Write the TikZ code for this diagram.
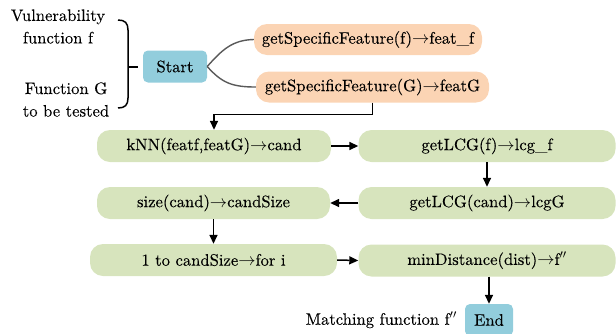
\documentclass[tikz,border=0pt]{standalone}
\usepackage{fontspec}
\newfontfamily\lmx{lmroman10-regular}[Extension=.otf, FakeBold=0.1]
\usetikzlibrary{arrows.meta,calc}
\newcommand{\ra}{\ensuremath{\rightarrow}}
\newcommand{\dpr}{\ensuremath{^{\prime\prime}}}
\definecolor{startblue}{HTML}{92CDDC}
\definecolor{peach}{HTML}{FBD4B4}
\definecolor{olive}{HTML}{D7E4BD}
\tikzset{
  txt/.style={font=\lmx\fontsize{16.6}{22.5}\selectfont, inner sep=0pt},
  terminal/.style={txt, fill=startblue, rounded corners=5pt, minimum height=32pt},
  featbox/.style={txt, fill=peach, rounded corners=13pt, minimum height=31pt},
  stepbox/.style={txt, fill=olive, rounded corners=13pt, minimum height=32pt},
  flow/.style={line width=1.5pt, -{Triangle[length=9pt,width=8pt]}},
  branch/.style={line width=1.4pt, draw=black!65},
}
\begin{document}
\begin{tikzpicture}[x=1pt,y=-1pt]
\useasboundingbox (0,0) rectangle (616,333);
% left labels
\node[txt, align=center] (vf) at (58,26.5) {Vulnerability\\function f};
\node[txt, align=center] (fg) at (66,99.5) {Function G\\to be tested};
% brace
\draw[line width=1.5pt] (118,20) .. controls (125,20) and (128,23) .. (128,30) -- (128,98) .. controls (128,105) and (125,108) .. (118,108);
\draw[line width=1.5pt] (128,67) -- (138,67);
% nodes
\node[terminal, minimum width=64pt] (start) at (175,66.5) {Start};
\node[featbox, minimum width=228pt] (ff) at (368,39.5) {getSpecificFeature(f)\ra feat\_f};
\node[featbox, minimum width=233pt] (fG) at (372.5,87) {getSpecificFeature(G)\ra featG};
\node[stepbox, minimum width=234pt] (knn) at (214,146) {kNN(featf,featG)\ra cand};
\node[stepbox, minimum width=257pt] (lcgf) at (487,146) {getLCG(f)\ra lcg\_f};
\node[stepbox, minimum width=233pt] (size) at (213.5,203) {size(cand)\ra candSize};
\node[stepbox, minimum width=257pt] (lcgG) at (487,203) {getLCG(cand)\ra lcgG};
\node[stepbox, minimum width=247pt] (loop) at (213.5,260) {1 to candSize\ra for i};
\node[stepbox, minimum width=257pt] (mind) at (487,260.5) {minDistance(dist)\ra f\dpr};
\node[terminal, minimum width=48pt] (end) at (489,320) {End};
\node[txt, anchor=east] (match) at (457,320) {Matching function f\dpr};
% branches from start
\draw[branch] (start.east) .. controls (222,50) and (232,40) .. (ff.west);
\draw[branch] (start.east) .. controls (222,83) and (232,87) .. (fG.west);
% flow arrows
\draw[flow] (fG.south) -- ++(0,12) -| (knn.north);
\draw[flow] (knn.east) -- (lcgf.west);
\draw[flow] (lcgf.south) -- (lcgG.north);
\draw[flow] (lcgG.west) -- (size.east);
\draw[flow] (size.south) -- (loop.north);
\draw[flow] (loop.east) -- (mind.west);
\draw[flow] (mind.south -| end.north) -- (end.north);
\end{tikzpicture}
\end{document}
